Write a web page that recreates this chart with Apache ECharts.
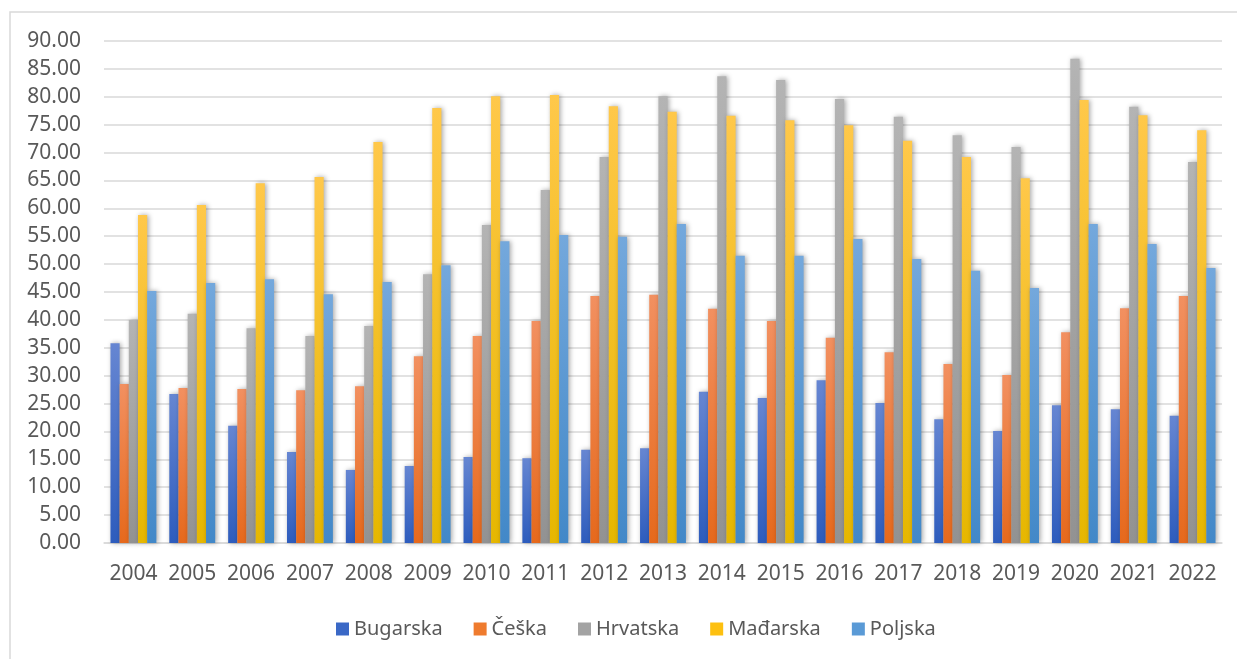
<!DOCTYPE html>
<html>
<head>
<meta charset="utf-8">
<script src="https://cdn.jsdelivr.net/npm/echarts@6/dist/echarts.min.js"></script>
<style>html,body{margin:0;padding:0;background:#fff}#c{width:1237px;height:659px}</style>
</head>
<body>
<div id="c"></div>
<script>
const years = ['2004','2005','2006','2007','2008','2009','2010','2011','2012','2013','2014','2015','2016','2017','2018','2019','2020','2021','2022'];
const seriesNames = ['Bugarska','Češka','Hrvatska','Mađarska','Poljska'];
const bugarska = [35.8,26.7,21.0,16.3,13.1,13.8,15.4,15.2,16.7,17.0,27.1,26.0,29.2,25.1,22.2,20.1,24.7,24.0,22.8];
const ceska    = [28.5,27.8,27.6,27.4,28.1,33.5,37.1,39.8,44.3,44.5,42.0,39.8,36.8,34.2,32.1,30.1,37.8,42.1,44.3];
const hrvatska = [40.0,41.1,38.5,37.1,38.9,48.2,57.0,63.3,69.2,80.1,83.7,83.0,79.6,76.4,73.1,71.0,86.8,78.2,68.3];
const madarska = [58.8,60.6,64.5,65.6,71.9,78.0,80.1,80.3,78.3,77.3,76.6,75.8,74.9,72.1,69.2,65.4,79.4,76.7,74.0];
const poljska  = [45.2,46.6,47.3,44.6,46.8,49.8,54.1,55.2,54.9,57.2,51.5,51.5,54.5,50.9,48.8,45.7,57.2,53.6,49.3];
const yTicks = {min:0, max:90, interval:5};

const dataSets = [bugarska, ceska, hrvatska, madarska, poljska];
const gradients = [
  ['#6686d2','#2d5cbd'],
  ['#f29060','#e6691c'],
  ['#b4b4b4','#929292'],
  ['#ffc84a','#e6b700'],
  ['#74a8dc','#4288c8']
];
const legendColors = ['#3a68c6','#ef7b2e','#a3a3a3','#fdc010','#5a9ad6'];
const font = '"Noto Sans", "Open Sans", sans-serif';

const chart = echarts.init(document.getElementById('c'));
chart.setOption({
  animation:false,
  backgroundColor:'#fff',
  graphic:[{type:'rect', shape:{x:10,y:12,width:1240,height:700}, style:{fill:'none', stroke:'#d9d9d9', lineWidth:1.5}, z:-1}],
  grid:{left:104, right:15, top:41, bottom:116, containLabel:false},
  legend:{
    data: seriesNames.map((n,i)=>({name:n, itemStyle:{color:legendColors[i]}})),
    top:619, left:336, padding:0, itemWidth:13, itemHeight:13, itemGap:31, icon:'rect',
    textStyle:{fontFamily:font, fontSize:20, color:'#595959'}
  },
  xAxis:{
    type:'category', data:years,
    axisLine:{lineStyle:{color:'#d9d9d9', width:1.5}},
    axisTick:{show:false},
    axisLabel:{fontFamily:font, fontSize:21, color:'#595959', margin:21, interval:0, hideOverlap:false}
  },
  yAxis:{
    type:'value', min:yTicks.min, max:yTicks.max, interval:yTicks.interval,
    axisLine:{show:false}, axisTick:{show:false},
    splitLine:{lineStyle:{color:'#d9d9d9', width:1.5}},
    axisLabel:{fontFamily:font, fontSize:21, color:'#595959', margin:23, formatter:v=>v.toFixed(2)}
  },
  series: dataSets.map((d,i)=>({
    name:seriesNames[i], type:'bar', data:d,
    barGap:'0%', barCategoryGap:'22%',
    itemStyle:{
      color:new echarts.graphic.LinearGradient(0,0,0,1,[{offset:0,color:gradients[i][0]},{offset:1,color:gradients[i][1]}]),
      shadowBlur:5, shadowColor:'rgba(0,0,0,0.35)', shadowOffsetX:1.5, shadowOffsetY:0
    }
  }))
});
</script>
</body>
</html>
